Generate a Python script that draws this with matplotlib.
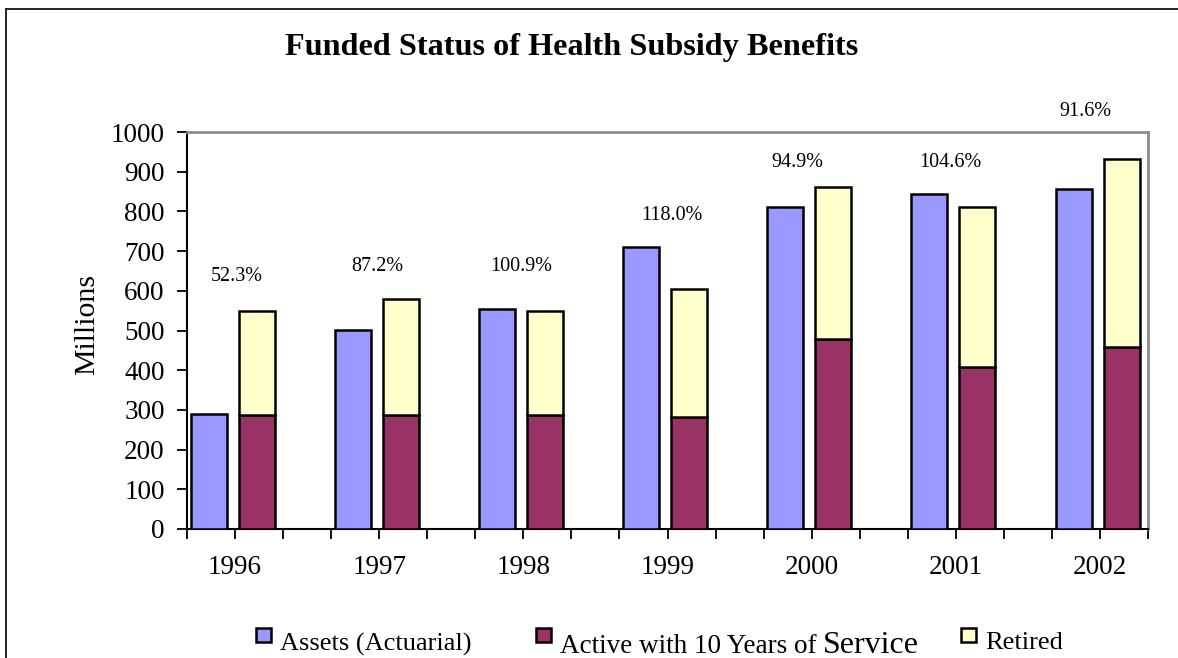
""" Funded status of health subsidy benefits """

import matplotlib
matplotlib.use("Agg")
import matplotlib.pyplot as plt
from matplotlib.patches import Rectangle
from matplotlib.lines import Line2D

plt.rcParams['font.family'] = ['Liberation Serif', 'DejaVu Serif']

# data (millions)
years = ['1996', '1997', '1998', '1999', '2000', '2001', '2002']
assets = [290, 502, 553, 710, 810, 845, 856]
active = [287, 287, 287, 282, 478, 407, 458]
retired = [261, 292, 262, 322, 383, 404, 473]
funded_pct = ['52.3%', '87.2%', '100.9%', '118.0%', '94.9%', '104.6%', '91.6%']

# where the percent labels sit (slot units, millions)
pct_pos = [(1.03, 637), (3.97, 660), (6.95, 660), (10.1, 789),
           (12.7, 922), (15.88, 922), (18.7, 1052)]

c_assets = '#9999FF'
c_active = '#993366'
c_retired = '#FFFFCC'

fig = plt.figure(figsize=(11.78, 6.58), dpi=100)
ax = fig.add_axes([187 / 1178, 1 - 529 / 658, 961 / 1178, 397 / 658])

# each year takes three slots: assets, stacked bar, gap
x_assets = [3 * i + 0.45 for i in range(len(years))]
x_stack = [3 * i + 1.45 for i in range(len(years))]
w = 0.75

ax.bar(x_assets, assets, w, color=c_assets, edgecolor='black', linewidth=1.8, zorder=3)
ax.bar(x_stack, active, w, color=c_active, edgecolor='black', linewidth=1.8, zorder=3)
ax.bar(x_stack, retired, w, bottom=active, color=c_retired, edgecolor='black',
       linewidth=1.8, zorder=3)

for (px, py), txt in zip(pct_pos, funded_pct):
    ax.text(px, py, txt, ha='center', va='center', fontsize=14.5, clip_on=False)

ax.set_xlim(0, 20)
ax.set_ylim(0, 1000)
ax.set_yticks(range(0, 1001, 100))
ax.set_xticks(range(0, 21))
ax.set_xticklabels(['' if k % 3 != 1 else years[k // 3] for k in range(21)])
ax.tick_params(axis='y', direction='out', length=7, width=1.3, pad=9, labelsize=19.5)
ax.tick_params(axis='x', direction='out', length=7, width=1.3, pad=12, labelsize=19.5)

for s in ['left', 'bottom']:
    ax.spines[s].set_color('black')
    ax.spines[s].set_linewidth(1.5)
for s in ['top', 'right']:
    ax.spines[s].set_color('#8c8c8c')
    ax.spines[s].set_linewidth(2)

fig.text(87 / 1178, 1 - 324 / 658, 'Millions', rotation=90, ha='center', va='center',
         fontsize=21.5)
fig.text(572 / 1178, 1 - 55 / 658, 'Funded Status of Health Subsidy Benefits',
         ha='center', va='baseline', fontsize=23.2, fontweight='bold')

# legend drawn by hand, as in the original
W, H = 1178, 658
for x0, col in [(256, c_assets), (536, c_active), (961, c_retired)]:
    fig.patches.append(Rectangle((x0 / W, 1 - 642 / H), 15 / W, 14 / H, facecolor=col,
                                 edgecolor='black', linewidth=1.8,
                                 transform=fig.transFigure, figure=fig))
fig.text(280 / W, 1 - 651 / H, 'Assets (Actuarial)', fontsize=19, va='baseline')
fig.text(560 / W, 1 - 653 / H, 'Active with 10 Years of', fontsize=19.5, va='baseline')
fig.text(823 / W, 1 - 653 / H, 'Service', fontsize=23, va='baseline')
fig.text(985 / W, 1 - 649 / H, 'Retired', fontsize=19, va='baseline')

# outer frame
fig.lines.append(Line2D([6 / W, 1], [1 - 9 / H, 1 - 9 / H], color='#222222',
                        linewidth=1.4, transform=fig.transFigure))
fig.lines.append(Line2D([6 / W, 6 / W], [0, 1 - 9 / H], color='#222222',
                        linewidth=1.4, transform=fig.transFigure))

plt.savefig("out.png", dpi=100)
